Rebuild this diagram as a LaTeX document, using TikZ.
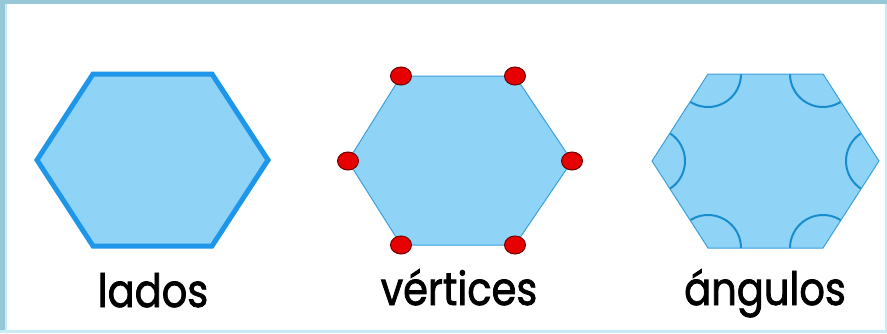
\documentclass[tikz,border=0pt]{standalone}
\usepackage{fontspec}
\setmainfont{Poppins}
\newfontfamily\lblfont{Poppins}[FakeBold=1.6, FakeStretch=0.87]
\usetikzlibrary{shapes.geometric}
\definecolor{hexfill}{RGB}{143,212,247}
\definecolor{hexline}{RGB}{30,150,234}
\definecolor{thinline}{RGB}{60,160,220}
\definecolor{arcline}{RGB}{25,140,205}
\definecolor{framec}{RGB}{150,200,216}
\definecolor{framelight}{RGB}{200,235,248}
\definecolor{dotred}{RGB}{230,0,0}
\definecolor{dotedge}{RGB}{110,0,0}
\tikzset{
  thickhex/.style={fill=hexfill, draw=hexline, line width=5pt, line join=miter},
  thinhex/.style={fill=hexfill, draw=thinline, line width=1pt},
  vdot/.style={ellipse, fill=dotred, draw=dotedge, line width=1pt, minimum width=21pt, minimum height=18pt, inner sep=0pt},
  lbl/.style={font=\lblfont\fontsize{46}{50}\selectfont, anchor=base, text=black, inner sep=0pt},
  anglearc/.style={draw=arcline, line width=2pt}
}
\begin{document}
\begin{tikzpicture}[x=1pt,y=-1pt]
\useasboundingbox (0,0) rectangle (887,333);
\fill[white] (0,0) rectangle (887,333);
% frame
\fill[framec] (0,0) rectangle (887,4);
\fill[framec] (0,0) rectangle (5,333);
\fill[framelight] (5,4) rectangle (7,333);
\fill[framelight] (0,330) rectangle (887,333);
\fill[framelight] (885,4) rectangle (887,333);
% hexagon 1: lados
\coordinate (a1) at (93,74);
\coordinate (a2) at (212,74);
\coordinate (a3) at (268,160);
\coordinate (a4) at (212,246);
\coordinate (a5) at (93,246);
\coordinate (a6) at (37,160);
\draw[thickhex] (a1) -- (a2) -- (a3) -- (a4) -- (a5) -- (a6) -- cycle;
% hexagon 2: vertices
\coordinate (b1) at (401,76);
\coordinate (b2) at (515,76);
\coordinate (b3) at (572,161);
\coordinate (b4) at (515,245);
\coordinate (b5) at (401,245);
\coordinate (b6) at (348,161);
\draw[thinhex] (b1) -- (b2) -- (b3) -- (b4) -- (b5) -- (b6) -- cycle;
\foreach \v in {b1,b2,b3,b4,b5,b6} \node[vdot] (dot\v) at (\v) {};
% hexagon 3: angulos
\coordinate (c1) at (708,74);
\coordinate (c2) at (823,74);
\coordinate (c3) at (879,161);
\coordinate (c4) at (823,248);
\coordinate (c5) at (708,248);
\coordinate (c6) at (652,161);
\fill[hexfill] (c1) -- (c2) -- (c3) -- (c4) -- (c5) -- (c6) -- cycle;
\begin{scope}
\clip (c1) -- (c2) -- (c3) -- (c4) -- (c5) -- (c6) -- cycle;
\foreach \v in {c1,c2,c3,c4,c5,c6} \draw[anglearc] (\v) circle[radius=33];
\end{scope}
\draw[draw=thinline, line width=1pt] (c1) -- (c2) -- (c3) -- (c4) -- (c5) -- (c6) -- cycle;
% labels
\node[lbl] (l1) at (153,307) {lados};
\node[lbl] (l2) at (459,305) {vértices};
\node[lbl] (l3) at (765,305) {ángulos};
\end{tikzpicture}
\end{document}
